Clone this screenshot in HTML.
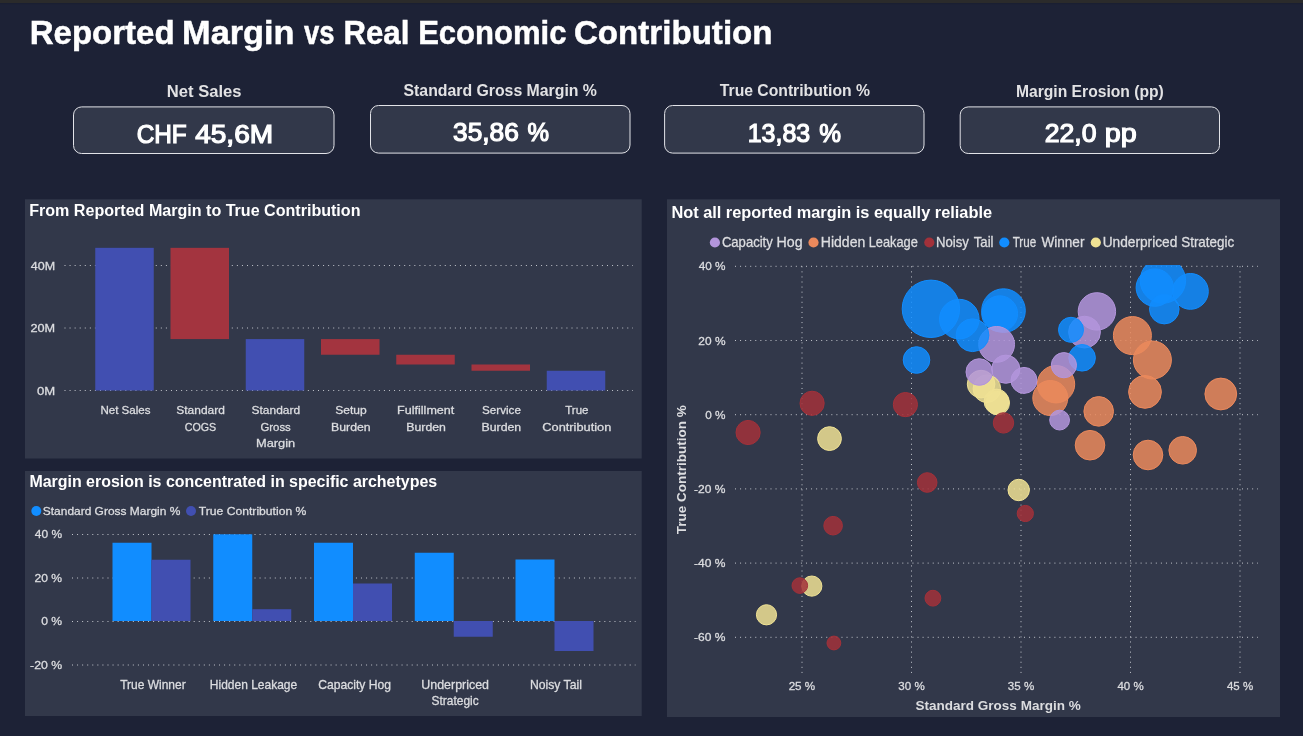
<!DOCTYPE html>
<html><head><meta charset="utf-8"><title>Reported Margin vs Real Economic Contribution</title>
<style>
html,body{margin:0;padding:0;background:#1d2236;overflow:hidden}
body{width:1303px;height:736px;font-family:"Liberation Sans",sans-serif}
svg{display:block;font-family:"Liberation Sans",sans-serif;will-change:transform}
.g{stroke:#c2c5cc;stroke-width:1;stroke-dasharray:1 4.07;fill:none}
text{white-space:pre}
</style></head><body>
<svg width="1303" height="736" viewBox="0 0 1303 736">
<rect x="0.00" y="0.00" width="1303.00" height="736.00" fill="#1d2236"/>
<rect x="0.00" y="0.00" width="1303.00" height="3.00" fill="#2b2b2b"/>
<rect x="0.00" y="3.00" width="1303.00" height="1.00" fill="#1a1f32"/>
<rect x="0.00" y="4.00" width="1303.00" height="1.00" fill="#1c2134"/>
<text x="29.72" y="43.95" font-size="34" font-weight="bold" fill="#ffffff" textLength="144.83" lengthAdjust="spacingAndGlyphs" stroke="#ffffff" stroke-width="0.5">Reported</text>
<text x="182.14" y="43.95" font-size="34" font-weight="bold" fill="#ffffff" textLength="112.28" lengthAdjust="spacingAndGlyphs" stroke="#ffffff" stroke-width="0.5">Margin</text>
<text x="304.11" y="43.95" font-size="34" font-weight="bold" fill="#ffffff" textLength="30.50" lengthAdjust="spacingAndGlyphs" stroke="#ffffff" stroke-width="0.5">vs</text>
<text x="343.55" y="43.95" font-size="34" font-weight="bold" fill="#ffffff" textLength="65.78" lengthAdjust="spacingAndGlyphs" stroke="#ffffff" stroke-width="0.5">Real</text>
<text x="418.16" y="43.95" font-size="34" font-weight="bold" fill="#ffffff" textLength="148.29" lengthAdjust="spacingAndGlyphs" stroke="#ffffff" stroke-width="0.5">Economic</text>
<text x="573.93" y="43.95" font-size="34" font-weight="bold" fill="#ffffff" textLength="198.64" lengthAdjust="spacingAndGlyphs" stroke="#ffffff" stroke-width="0.5">Contribution</text>
<rect x="73.50" y="106.90" width="260.50" height="46.60" rx="8" ry="8" fill="#32384a" stroke="#e2e3e8" stroke-width="1"/>
<text x="166.88" y="97.00" font-size="16" font-weight="bold" fill="#e2e2e4" textLength="74.53" lengthAdjust="spacingAndGlyphs">Net Sales</text>
<text x="136.68" y="142.60" font-size="25.3" font-weight="normal" fill="#ffffff" textLength="50.10" lengthAdjust="spacingAndGlyphs" stroke="#ffffff" stroke-width="1.2">CHF</text>
<text x="195.17" y="142.60" font-size="25.3" font-weight="normal" fill="#ffffff" textLength="77.93" lengthAdjust="spacingAndGlyphs" stroke="#ffffff" stroke-width="1.2">45,6M</text>
<rect x="370.50" y="105.50" width="259.50" height="47.60" rx="8" ry="8" fill="#32384a" stroke="#e2e3e8" stroke-width="1"/>
<text x="403.53" y="96.00" font-size="16" font-weight="bold" fill="#e2e2e4" textLength="193.41" lengthAdjust="spacingAndGlyphs">Standard Gross Margin %</text>
<text x="453.12" y="141.40" font-size="25.3" font-weight="normal" fill="#ffffff" textLength="65.70" lengthAdjust="spacingAndGlyphs" stroke="#ffffff" stroke-width="1.2">35,86</text>
<text x="527.55" y="141.40" font-size="25.3" font-weight="normal" fill="#ffffff" textLength="21.54" lengthAdjust="spacingAndGlyphs" stroke="#ffffff" stroke-width="1.2">%</text>
<rect x="664.60" y="105.50" width="259.40" height="47.60" rx="8" ry="8" fill="#32384a" stroke="#e2e3e8" stroke-width="1"/>
<text x="719.80" y="96.00" font-size="16" font-weight="bold" fill="#e2e2e4" textLength="150.13" lengthAdjust="spacingAndGlyphs">True Contribution %</text>
<text x="747.73" y="141.50" font-size="25.3" font-weight="normal" fill="#ffffff" textLength="62.54" lengthAdjust="spacingAndGlyphs" stroke="#ffffff" stroke-width="1.2">13,83</text>
<text x="819.34" y="141.50" font-size="25.3" font-weight="normal" fill="#ffffff" textLength="21.75" lengthAdjust="spacingAndGlyphs" stroke="#ffffff" stroke-width="1.2">%</text>
<rect x="960.20" y="106.90" width="259.30" height="46.60" rx="8" ry="8" fill="#32384a" stroke="#e2e3e8" stroke-width="1"/>
<text x="1015.94" y="97.00" font-size="16" font-weight="bold" fill="#e2e2e4" textLength="147.87" lengthAdjust="spacingAndGlyphs">Margin Erosion (pp)</text>
<text x="1044.77" y="142.40" font-size="25.3" font-weight="normal" fill="#ffffff" textLength="51.76" lengthAdjust="spacingAndGlyphs" stroke="#ffffff" stroke-width="1.2">22,0</text>
<text x="1104.74" y="142.40" font-size="25.3" font-weight="normal" fill="#ffffff" textLength="31.88" lengthAdjust="spacingAndGlyphs" stroke="#ffffff" stroke-width="1.2">pp</text>
<rect x="25.00" y="199.30" width="616.70" height="259.20" fill="#32384a"/>
<rect x="25.00" y="471.00" width="616.70" height="245.00" fill="#32384a"/>
<rect x="667.00" y="199.30" width="613.00" height="517.70" fill="#32384a"/>
<text x="29.22" y="215.90" font-size="16" font-weight="bold" fill="#ffffff" textLength="331.26" lengthAdjust="spacingAndGlyphs">From Reported Margin to True Contribution</text>
<text x="29.42" y="487.00" font-size="16" font-weight="bold" fill="#ffffff" textLength="407.75" lengthAdjust="spacingAndGlyphs">Margin erosion is concentrated in specific archetypes</text>
<text x="671.40" y="217.50" font-size="16" font-weight="bold" fill="#ffffff" textLength="320.63" lengthAdjust="spacingAndGlyphs">Not all reported margin is equally reliable</text>
<line x1="64.50" y1="390.50" x2="633.00" y2="390.50" class="g"/>
<line x1="64.50" y1="328.00" x2="633.00" y2="328.00" class="g"/>
<line x1="64.50" y1="265.50" x2="633.00" y2="265.50" class="g"/>
<text x="36.93" y="394.65" font-size="11.6" font-weight="normal" fill="#dcdde0" textLength="18.23" lengthAdjust="spacingAndGlyphs" stroke="#dcdde0" stroke-width="0.3">0M</text>
<text x="30.42" y="332.15" font-size="11.6" font-weight="normal" fill="#dcdde0" textLength="24.69" lengthAdjust="spacingAndGlyphs" stroke="#dcdde0" stroke-width="0.3">20M</text>
<text x="30.77" y="269.65" font-size="11.6" font-weight="normal" fill="#dcdde0" textLength="24.32" lengthAdjust="spacingAndGlyphs" stroke="#dcdde0" stroke-width="0.3">40M</text>
<rect x="95.25" y="247.84" width="58.50" height="142.66" fill="#414fb1"/>
<rect x="170.50" y="247.84" width="58.50" height="91.25" fill="#a3343f"/>
<rect x="245.75" y="339.09" width="58.50" height="51.41" fill="#414fb1"/>
<rect x="321.00" y="339.09" width="58.50" height="15.66" fill="#a3343f"/>
<rect x="396.25" y="354.75" width="58.50" height="9.75" fill="#a3343f"/>
<rect x="471.50" y="364.50" width="58.50" height="6.25" fill="#a3343f"/>
<rect x="546.75" y="370.75" width="58.50" height="19.75" fill="#414fb1"/>
<text x="100.39" y="413.95" font-size="11.7" font-weight="normal" fill="#dcdde0" textLength="50.07" lengthAdjust="spacingAndGlyphs" stroke="#dcdde0" stroke-width="0.3">Net Sales</text>
<text x="176.30" y="413.95" font-size="11.7" font-weight="normal" fill="#dcdde0" textLength="48.52" lengthAdjust="spacingAndGlyphs" stroke="#dcdde0" stroke-width="0.3">Standard</text>
<text x="184.72" y="430.95" font-size="11.7" font-weight="normal" fill="#dcdde0" textLength="31.43" lengthAdjust="spacingAndGlyphs" stroke="#dcdde0" stroke-width="0.3">COGS</text>
<text x="251.55" y="413.95" font-size="11.7" font-weight="normal" fill="#dcdde0" textLength="48.52" lengthAdjust="spacingAndGlyphs" stroke="#dcdde0" stroke-width="0.3">Standard</text>
<text x="260.43" y="430.95" font-size="11.7" font-weight="normal" fill="#dcdde0" textLength="30.36" lengthAdjust="spacingAndGlyphs" stroke="#dcdde0" stroke-width="0.3">Gross</text>
<text x="255.98" y="447.25" font-size="11.7" font-weight="normal" fill="#dcdde0" textLength="39.24" lengthAdjust="spacingAndGlyphs" stroke="#dcdde0" stroke-width="0.3">Margin</text>
<text x="335.21" y="413.95" font-size="11.7" font-weight="normal" fill="#dcdde0" textLength="31.42" lengthAdjust="spacingAndGlyphs" stroke="#dcdde0" stroke-width="0.3">Setup</text>
<text x="331.03" y="430.95" font-size="11.7" font-weight="normal" fill="#dcdde0" textLength="39.66" lengthAdjust="spacingAndGlyphs" stroke="#dcdde0" stroke-width="0.3">Burden</text>
<text x="397.10" y="413.95" font-size="11.7" font-weight="normal" fill="#dcdde0" textLength="57.25" lengthAdjust="spacingAndGlyphs" stroke="#dcdde0" stroke-width="0.3">Fulfillment</text>
<text x="406.28" y="430.95" font-size="11.7" font-weight="normal" fill="#dcdde0" textLength="39.66" lengthAdjust="spacingAndGlyphs" stroke="#dcdde0" stroke-width="0.3">Burden</text>
<text x="482.02" y="413.95" font-size="11.7" font-weight="normal" fill="#dcdde0" textLength="38.86" lengthAdjust="spacingAndGlyphs" stroke="#dcdde0" stroke-width="0.3">Service</text>
<text x="481.53" y="430.95" font-size="11.7" font-weight="normal" fill="#dcdde0" textLength="39.66" lengthAdjust="spacingAndGlyphs" stroke="#dcdde0" stroke-width="0.3">Burden</text>
<text x="565.21" y="413.95" font-size="11.7" font-weight="normal" fill="#dcdde0" textLength="23.24" lengthAdjust="spacingAndGlyphs" stroke="#dcdde0" stroke-width="0.3">True</text>
<text x="542.30" y="430.95" font-size="11.7" font-weight="normal" fill="#dcdde0" textLength="69.02" lengthAdjust="spacingAndGlyphs" stroke="#dcdde0" stroke-width="0.3">Contribution</text>
<line x1="72.00" y1="534.50" x2="635.50" y2="534.50" class="g"/>
<line x1="72.00" y1="578.00" x2="635.50" y2="578.00" class="g"/>
<line x1="72.00" y1="621.50" x2="635.50" y2="621.50" class="g"/>
<line x1="72.00" y1="665.00" x2="635.50" y2="665.00" class="g"/>
<text x="34.88" y="538.25" font-size="11.7" font-weight="normal" fill="#dcdde0" textLength="27.21" lengthAdjust="spacingAndGlyphs" stroke="#dcdde0" stroke-width="0.3">40 %</text>
<text x="34.55" y="581.75" font-size="11.7" font-weight="normal" fill="#dcdde0" textLength="27.55" lengthAdjust="spacingAndGlyphs" stroke="#dcdde0" stroke-width="0.3">20 %</text>
<text x="41.16" y="625.25" font-size="11.7" font-weight="normal" fill="#dcdde0" textLength="20.92" lengthAdjust="spacingAndGlyphs" stroke="#dcdde0" stroke-width="0.3">0 %</text>
<text x="30.10" y="668.75" font-size="11.7" font-weight="normal" fill="#dcdde0" textLength="32.01" lengthAdjust="spacingAndGlyphs" stroke="#dcdde0" stroke-width="0.3">-20 %</text>
<rect x="112.50" y="542.75" width="39.00" height="78.25" fill="#118dff"/>
<rect x="151.50" y="559.75" width="39.00" height="61.25" fill="#414fb1"/>
<rect x="213.25" y="534.30" width="39.00" height="86.70" fill="#118dff"/>
<rect x="252.25" y="609.20" width="39.00" height="11.80" fill="#414fb1"/>
<rect x="314.00" y="542.75" width="39.00" height="78.25" fill="#118dff"/>
<rect x="353.00" y="583.50" width="39.00" height="37.50" fill="#414fb1"/>
<rect x="414.75" y="552.75" width="39.00" height="68.25" fill="#118dff"/>
<rect x="453.75" y="621.00" width="39.00" height="15.75" fill="#414fb1"/>
<rect x="515.50" y="559.50" width="39.00" height="61.50" fill="#118dff"/>
<rect x="554.50" y="621.00" width="39.00" height="30.00" fill="#414fb1"/>
<text x="120.21" y="688.55" font-size="12.1" font-weight="normal" fill="#dcdde0" textLength="65.48" lengthAdjust="spacingAndGlyphs" stroke="#dcdde0" stroke-width="0.3">True Winner</text>
<text x="209.85" y="688.55" font-size="12.1" font-weight="normal" fill="#dcdde0" textLength="87.35" lengthAdjust="spacingAndGlyphs" stroke="#dcdde0" stroke-width="0.3">Hidden Leakage</text>
<text x="318.16" y="688.55" font-size="12.1" font-weight="normal" fill="#dcdde0" textLength="72.85" lengthAdjust="spacingAndGlyphs" stroke="#dcdde0" stroke-width="0.3">Capacity Hog</text>
<text x="421.27" y="688.55" font-size="12.1" font-weight="normal" fill="#dcdde0" textLength="67.77" lengthAdjust="spacingAndGlyphs" stroke="#dcdde0" stroke-width="0.3">Underpriced</text>
<text x="431.60" y="704.65" font-size="12.1" font-weight="normal" fill="#dcdde0" textLength="47.08" lengthAdjust="spacingAndGlyphs" stroke="#dcdde0" stroke-width="0.3">Strategic</text>
<text x="529.90" y="688.55" font-size="12.1" font-weight="normal" fill="#dcdde0" textLength="52.00" lengthAdjust="spacingAndGlyphs" stroke="#dcdde0" stroke-width="0.3">Noisy Tail</text>
<circle cx="36.3" cy="511" r="5" fill="#118dff"/>
<text x="42.81" y="514.85" font-size="11.8" font-weight="normal" fill="#dcdde0" textLength="137.49" lengthAdjust="spacingAndGlyphs" stroke="#dcdde0" stroke-width="0.3">Standard Gross Margin %</text>
<circle cx="191" cy="511" r="5" fill="#414fb1"/>
<text x="198.88" y="514.85" font-size="11.8" font-weight="normal" fill="#dcdde0" textLength="107.41" lengthAdjust="spacingAndGlyphs" stroke="#dcdde0" stroke-width="0.3">True Contribution %</text>
<line x1="735.00" y1="266.30" x2="1258.00" y2="266.30" class="g"/>
<line x1="735.00" y1="340.50" x2="1258.00" y2="340.50" class="g"/>
<line x1="735.00" y1="414.70" x2="1258.00" y2="414.70" class="g"/>
<line x1="735.00" y1="488.90" x2="1258.00" y2="488.90" class="g"/>
<line x1="735.00" y1="563.10" x2="1258.00" y2="563.10" class="g"/>
<line x1="735.00" y1="637.30" x2="1258.00" y2="637.30" class="g"/>
<line x1="802.00" y1="266.30" x2="802.00" y2="676.50" class="g"/>
<line x1="911.50" y1="266.30" x2="911.50" y2="676.50" class="g"/>
<line x1="1021.00" y1="266.30" x2="1021.00" y2="676.50" class="g"/>
<line x1="1130.50" y1="266.30" x2="1130.50" y2="676.50" class="g"/>
<line x1="1240.00" y1="266.30" x2="1240.00" y2="676.50" class="g"/>
<text x="698.69" y="270.35" font-size="11.8" font-weight="normal" fill="#dcdde0" textLength="26.80" lengthAdjust="spacingAndGlyphs" stroke="#dcdde0" stroke-width="0.3">40 %</text>
<text x="698.35" y="344.55" font-size="11.8" font-weight="normal" fill="#dcdde0" textLength="27.13" lengthAdjust="spacingAndGlyphs" stroke="#dcdde0" stroke-width="0.3">20 %</text>
<text x="705.18" y="418.75" font-size="11.8" font-weight="normal" fill="#dcdde0" textLength="20.29" lengthAdjust="spacingAndGlyphs" stroke="#dcdde0" stroke-width="0.3">0 %</text>
<text x="694.11" y="492.95" font-size="11.8" font-weight="normal" fill="#dcdde0" textLength="31.39" lengthAdjust="spacingAndGlyphs" stroke="#dcdde0" stroke-width="0.3">-20 %</text>
<text x="694.11" y="567.15" font-size="11.8" font-weight="normal" fill="#dcdde0" textLength="31.39" lengthAdjust="spacingAndGlyphs" stroke="#dcdde0" stroke-width="0.3">-40 %</text>
<text x="694.11" y="641.35" font-size="11.8" font-weight="normal" fill="#dcdde0" textLength="31.39" lengthAdjust="spacingAndGlyphs" stroke="#dcdde0" stroke-width="0.3">-60 %</text>
<text x="788.67" y="689.75" font-size="11.8" font-weight="normal" fill="#dcdde0" textLength="26.51" lengthAdjust="spacingAndGlyphs" stroke="#dcdde0" stroke-width="0.3">25 %</text>
<text x="898.32" y="689.75" font-size="11.8" font-weight="normal" fill="#dcdde0" textLength="26.36" lengthAdjust="spacingAndGlyphs" stroke="#dcdde0" stroke-width="0.3">30 %</text>
<text x="1007.82" y="689.75" font-size="11.8" font-weight="normal" fill="#dcdde0" textLength="26.36" lengthAdjust="spacingAndGlyphs" stroke="#dcdde0" stroke-width="0.3">35 %</text>
<text x="1117.49" y="689.75" font-size="11.8" font-weight="normal" fill="#dcdde0" textLength="26.18" lengthAdjust="spacingAndGlyphs" stroke="#dcdde0" stroke-width="0.3">40 %</text>
<text x="1226.99" y="689.75" font-size="11.8" font-weight="normal" fill="#dcdde0" textLength="26.18" lengthAdjust="spacingAndGlyphs" stroke="#dcdde0" stroke-width="0.3">45 %</text>
<text x="915.59" y="709.60" font-size="13" font-weight="bold" fill="#dcdde0" textLength="165.08" lengthAdjust="spacingAndGlyphs">Standard Gross Margin %</text>
<g transform="translate(686.4,469.9) rotate(-90)">
<text x="-64.37" y="0.00" font-size="13.5" font-weight="bold" fill="#dcdde0" textLength="128.94" lengthAdjust="spacingAndGlyphs">True Contribution %</text>
</g>
<circle cx="714.9" cy="242.5" r="5.1" fill="#b395dc"/>
<text x="721.90" y="246.95" font-size="14.2" font-weight="normal" fill="#dcdde0" textLength="50.90" lengthAdjust="spacingAndGlyphs" stroke="#dcdde0" stroke-width="0.3">Capacity</text>
<text x="776.58" y="246.95" font-size="14.2" font-weight="normal" fill="#dcdde0" textLength="26.09" lengthAdjust="spacingAndGlyphs" stroke="#dcdde0" stroke-width="0.3">Hog</text>
<circle cx="813.5" cy="242.5" r="5.1" fill="#eb895c"/>
<text x="820.79" y="246.95" font-size="14.2" font-weight="normal" fill="#dcdde0" textLength="44.49" lengthAdjust="spacingAndGlyphs" stroke="#dcdde0" stroke-width="0.3">Hidden</text>
<text x="868.69" y="246.95" font-size="14.2" font-weight="normal" fill="#dcdde0" textLength="49.13" lengthAdjust="spacingAndGlyphs" stroke="#dcdde0" stroke-width="0.3">Leakage</text>
<circle cx="929.3" cy="242.5" r="5.1" fill="#a2313a"/>
<text x="935.96" y="246.95" font-size="14.2" font-weight="normal" fill="#dcdde0" textLength="32.93" lengthAdjust="spacingAndGlyphs" stroke="#dcdde0" stroke-width="0.3">Noisy</text>
<text x="973.75" y="246.95" font-size="14.2" font-weight="normal" fill="#dcdde0" textLength="19.79" lengthAdjust="spacingAndGlyphs" stroke="#dcdde0" stroke-width="0.3">Tail</text>
<circle cx="1004.3" cy="242.5" r="5.1" fill="#118dff"/>
<text x="1012.69" y="246.95" font-size="14.2" font-weight="normal" fill="#dcdde0" textLength="23.47" lengthAdjust="spacingAndGlyphs" stroke="#dcdde0" stroke-width="0.3">True</text>
<text x="1041.38" y="246.95" font-size="14.2" font-weight="normal" fill="#dcdde0" textLength="43.07" lengthAdjust="spacingAndGlyphs" stroke="#dcdde0" stroke-width="0.3">Winner</text>
<circle cx="1095.8" cy="242.5" r="5.1" fill="#f0e294"/>
<text x="1102.69" y="246.95" font-size="14.2" font-weight="normal" fill="#dcdde0" textLength="74.62" lengthAdjust="spacingAndGlyphs" stroke="#dcdde0" stroke-width="0.3">Underpriced</text>
<text x="1181.25" y="246.95" font-size="14.2" font-weight="normal" fill="#dcdde0" textLength="52.86" lengthAdjust="spacingAndGlyphs" stroke="#dcdde0" stroke-width="0.3">Strategic</text>
<clipPath id="pc"><rect x="730" y="264.9" width="540" height="420"/></clipPath>
<g clip-path="url(#pc)" fill-opacity="0.85" stroke-opacity="1" stroke-width="1">
<circle cx="930.9" cy="308.8" r="28.70" fill="#118dff" stroke="#118dff"/>
<circle cx="1162.9" cy="280.5" r="22.70" fill="#118dff" stroke="#118dff"/>
<circle cx="1003.5" cy="310.6" r="21.80" fill="#118dff" stroke="#118dff"/>
<circle cx="959.3" cy="319.1" r="19.80" fill="#118dff" stroke="#118dff"/>
<circle cx="1132.4" cy="335.6" r="19.00" fill="#eb895c" stroke="#eb895c"/>
<circle cx="1152.4" cy="360.0" r="19.00" fill="#eb895c" stroke="#eb895c"/>
<circle cx="1154.8" cy="287.6" r="18.70" fill="#118dff" stroke="#118dff"/>
<circle cx="1056.0" cy="384.2" r="18.70" fill="#eb895c" stroke="#eb895c"/>
<circle cx="1096.9" cy="311.4" r="18.70" fill="#b395dc" stroke="#b395dc"/>
<circle cx="999.7" cy="313.7" r="17.90" fill="#118dff" stroke="#118dff"/>
<circle cx="1190.4" cy="291.4" r="17.90" fill="#118dff" stroke="#118dff"/>
<circle cx="996.6" cy="344.4" r="17.90" fill="#b395dc" stroke="#b395dc"/>
<circle cx="1050.3" cy="398.0" r="17.50" fill="#eb895c" stroke="#eb895c"/>
<circle cx="972.5" cy="335.2" r="16.40" fill="#118dff" stroke="#118dff"/>
<circle cx="1145.0" cy="391.9" r="16.40" fill="#eb895c" stroke="#eb895c"/>
<circle cx="1220.8" cy="394.0" r="15.90" fill="#eb895c" stroke="#eb895c"/>
<circle cx="1084.5" cy="332.1" r="15.90" fill="#b395dc" stroke="#b395dc"/>
<circle cx="1164.3" cy="309.1" r="14.80" fill="#118dff" stroke="#118dff"/>
<circle cx="1098.7" cy="411.4" r="14.80" fill="#eb895c" stroke="#eb895c"/>
<circle cx="1090.0" cy="445.2" r="14.80" fill="#eb895c" stroke="#eb895c"/>
<circle cx="1148.0" cy="455.0" r="14.80" fill="#eb895c" stroke="#eb895c"/>
<circle cx="1005.8" cy="369.2" r="14.10" fill="#b395dc" stroke="#b395dc"/>
<circle cx="981.1" cy="384.1" r="13.80" fill="#f0e294" stroke="#f0e294"/>
<circle cx="986.9" cy="388.7" r="13.80" fill="#f0e294" stroke="#f0e294"/>
<circle cx="1182.7" cy="450.3" r="13.80" fill="#eb895c" stroke="#eb895c"/>
<circle cx="916.5" cy="360.0" r="13.30" fill="#118dff" stroke="#118dff"/>
<circle cx="1082.1" cy="357.8" r="13.30" fill="#118dff" stroke="#118dff"/>
<circle cx="979.3" cy="372.0" r="13.30" fill="#b395dc" stroke="#b395dc"/>
<circle cx="1024.0" cy="380.4" r="13.00" fill="#b395dc" stroke="#b395dc"/>
<circle cx="1063.9" cy="365.2" r="12.60" fill="#b395dc" stroke="#b395dc"/>
<circle cx="1071.0" cy="329.8" r="12.50" fill="#118dff" stroke="#118dff"/>
<circle cx="996.5" cy="401.5" r="12.40" fill="#f0e294" stroke="#f0e294"/>
<circle cx="748.1" cy="432.5" r="12.10" fill="#a2313a" stroke="#a2313a"/>
<circle cx="812.1" cy="403.3" r="12.10" fill="#a2313a" stroke="#a2313a"/>
<circle cx="905.4" cy="404.6" r="12.10" fill="#a2313a" stroke="#a2313a"/>
<circle cx="997.6" cy="403.0" r="11.90" fill="#f0e294" stroke="#f0e294"/>
<circle cx="829.5" cy="438.6" r="11.90" fill="#f0e294" stroke="#f0e294"/>
<circle cx="1018.7" cy="490.0" r="10.70" fill="#f0e294" stroke="#f0e294"/>
<circle cx="1003.5" cy="422.9" r="10.20" fill="#a2313a" stroke="#a2313a"/>
<circle cx="811.8" cy="586.1" r="10.10" fill="#f0e294" stroke="#f0e294"/>
<circle cx="766.5" cy="614.8" r="10.10" fill="#f0e294" stroke="#f0e294"/>
<circle cx="1059.6" cy="420.1" r="9.90" fill="#b395dc" stroke="#b395dc"/>
<circle cx="927.2" cy="482.5" r="9.80" fill="#a2313a" stroke="#a2313a"/>
<circle cx="833.1" cy="525.7" r="9.30" fill="#a2313a" stroke="#a2313a"/>
<circle cx="1025.3" cy="513.5" r="8.10" fill="#a2313a" stroke="#a2313a"/>
<circle cx="932.9" cy="598.2" r="7.90" fill="#a2313a" stroke="#a2313a"/>
<circle cx="799.8" cy="585.6" r="7.80" fill="#a2313a" stroke="#a2313a"/>
<circle cx="833.9" cy="643.0" r="6.90" fill="#a2313a" stroke="#a2313a"/>
</g>
</svg>
</body></html>
